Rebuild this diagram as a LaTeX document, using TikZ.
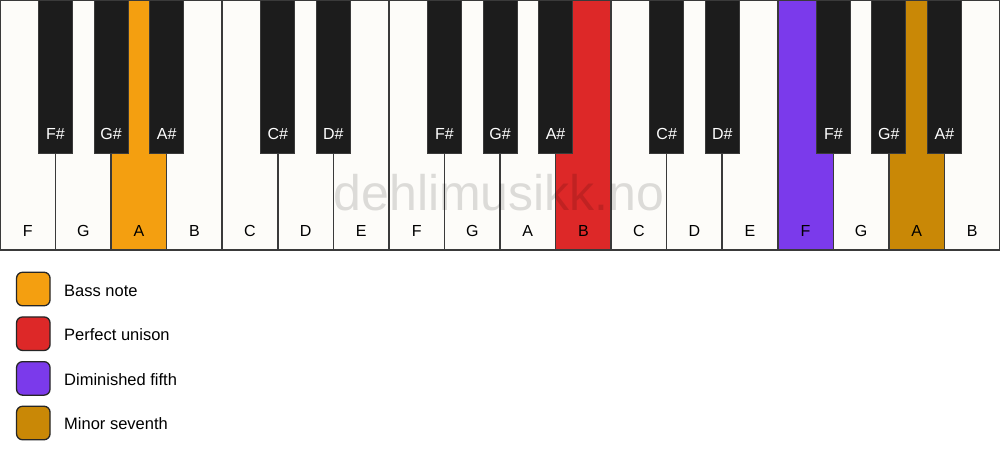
\documentclass[tikz,border=0pt]{standalone}
\usepackage{fontspec}
\setmainfont{Liberation Sans}
\definecolor{wkey}{HTML}{FDFCF9}
\definecolor{bkey}{HTML}{1C1C1C}
\definecolor{keyline}{HTML}{3A3A3A}
\definecolor{bass}{HTML}{F49F10}
\definecolor{unison}{HTML}{DD2828}
\definecolor{dimfifth}{HTML}{7B3AEB}
\definecolor{minseventh}{HTML}{C98806}
\begin{document}
\begin{tikzpicture}[x=1pt,y=-1pt,
  whitekey/.style={draw=keyline,line width=1.5pt,anchor=north west,minimum width=55.5556pt,minimum height=249.5pt,inner sep=0pt,outer sep=0pt},
  blackkey/.style={draw=keyline,line width=1pt,fill=bkey,anchor=north,minimum width=34pt,minimum height=153pt,inner sep=0pt,outer sep=0pt},
  wlabel/.style={anchor=base,text=black,font=\fontsize{16}{18}\selectfont,inner sep=0pt},
  blabel/.style={anchor=base,text=white,font=\fontsize{16}{18}\selectfont,inner sep=0pt},
  legbox/.style={draw=black!85,line width=1.3pt,rounded corners=6pt,minimum size=33.5pt,inner sep=0pt},
  legtext/.style={anchor=base west,text=black,font=\fontsize{16.5}{18}\selectfont,inner sep=0pt},
  watermark/.style={anchor=base,text=black,text opacity=0.13,font=\fontsize{50}{50}\selectfont,inner sep=0pt}]
\useasboundingbox (0,0) rectangle (1000,461);
\fill[white] (0,0) rectangle (1000,461);
\def\kw{55.5556}
% white keys
\foreach \n/\i/\c in {F/0/wkey,G/1/wkey,A/2/bass,B/3/wkey,C/4/wkey,D/5/wkey,E/6/wkey,F/7/wkey,G/8/wkey,A/9/wkey,B/10/unison,C/11/wkey,D/12/wkey,E/13/wkey,F/14/dimfifth,G/15/wkey,A/16/minseventh,B/17/wkey}{
  \node[whitekey,fill=\c] (w\i) at (\i*\kw,0.5) {};
  \node[wlabel] (wl\i) at (\i*\kw+\kw/2,236) {\n};
}
% watermark
\node[watermark] (wm) at (499,210) {dehlimusikk.no};
% black keys
\foreach \n/\b in {F\#/1,G\#/2,A\#/3,C\#/5,D\#/6,F\#/8,G\#/9,A\#/10,C\#/12,D\#/13,F\#/15,G\#/16,A\#/17}{
  \node[blackkey] (b\b) at (\b*\kw,0) {};
  \node[blabel] (bl\b) at (\b*\kw,139) {\n};
}
% legend
\node[legbox,fill=bass] (lb1) at (33.3,289) {};
\node[legtext] (lt1) at (64,296) {Bass note};
\node[legbox,fill=unison] (lb2) at (33.3,333.7) {};
\node[legtext] (lt2) at (64,340.5) {Perfect unison};
\node[legbox,fill=dimfifth] (lb3) at (33.3,378.4) {};
\node[legtext] (lt3) at (64,385) {Diminished fifth};
\node[legbox,fill=minseventh] (lb4) at (33.3,423) {};
\node[legtext] (lt4) at (64,429.5) {Minor seventh};
\end{tikzpicture}
\end{document}
